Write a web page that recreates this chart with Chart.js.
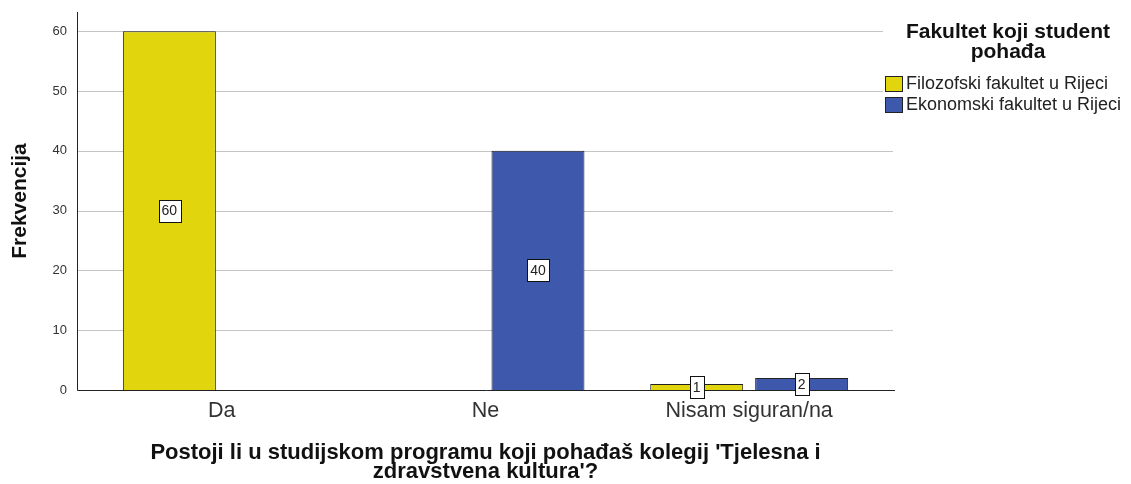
<!DOCTYPE html>
<html>
<head>
<meta charset="utf-8">
<script src="https://cdn.jsdelivr.net/npm/chart.js@4"></script>
<style>
    body { margin: 0; background: #fff; }
    #wrap { width: 1131px; height: 484px; }
</style>
</head>
<body>
<div id="wrap"><canvas id="chart"></canvas></div>
<script>
const categories = ["Da", "Ne", "Nisam siguran/na"];
const filozofski = [60, 0, 1];
const ekonomski = [0, 40, 2];
const seriesNames = ["Filozofski fakultet u Rijeci", "Ekonomski fakultet u Rijeci"];
const yTicks = [0, 10, 20, 30, 40, 50, 60];
const legendTitle = ["Fakultet koji student", "pohađa"];
const xTitle = ["Postoji li u studijskom programu koji pohađaš kolegij 'Tjelesna i", "zdravstvena kultura'?"];

const FONT = "'Liberation Sans', Arial, sans-serif";

function noPadding(scale) {
    scale.paddingTop = 0;
    scale.paddingBottom = 0;
    scale.paddingLeft = 0;
    scale.paddingRight = 0;
}

// gridlines and axis lines reach a bit past the bars, like the SPSS output
const frame = {
    id: "frame",
    beforeDatasetsDraw(chart) {
        const ctx = chart.ctx;
        const y = chart.scales.y;
        ctx.save();
        ctx.strokeStyle = "#c4c4c4";
        ctx.lineWidth = 1;
        yTicks.forEach(v => {
            if (v === 0) return;
            const py = Math.round(y.getPixelForValue(v)) + 0.5;
            ctx.beginPath();
            ctx.moveTo(77, py);
            ctx.lineTo(893, py);
            ctx.stroke();
        });
        ctx.restore();
    },
    afterDatasetsDraw(chart) {
        const ctx = chart.ctx;
        const y = chart.scales.y;
        const base = Math.round(y.getPixelForValue(0)) + 0.5;
        ctx.save();
        ctx.strokeStyle = "#222";
        ctx.lineWidth = 1;
        ctx.beginPath();
        ctx.moveTo(77.5, chart.chartArea.top);
        ctx.lineTo(77.5, base);
        ctx.lineTo(895, base);
        ctx.stroke();

        // value boxes in the middle of each bar
        ctx.font = "14px " + FONT;
        ctx.textAlign = "center";
        ctx.textBaseline = "middle";
        chart.data.datasets.forEach((ds, i) => {
            chart.getDatasetMeta(i).data.forEach((bar, j) => {
                const v = ds.data[j];
                if (!v) return;
                const cx = bar.x;
                const cy = (bar.y + bar.base) / 2;
                const w = ctx.measureText(String(v)).width + 6;
                const h = 22;
                ctx.fillStyle = "#fff";
                ctx.fillRect(Math.round(cx - w / 2) + 0.5, Math.round(cy - h / 2) + 0.5, Math.round(w), h);
                ctx.strokeStyle = "#111";
                ctx.strokeRect(Math.round(cx - w / 2) + 0.5, Math.round(cy - h / 2) + 0.5, Math.round(w), h);
                ctx.fillStyle = "#222";
                ctx.fillText(String(v), cx, cy + 1);
            });
        });
        ctx.restore();
    },
    afterDraw(chart) {
        const ctx = chart.ctx;
        ctx.save();
        ctx.fillStyle = "#fff";
        ctx.fillRect(883, 0, 248, 120);
        ctx.fillStyle = "#111";
        ctx.textAlign = "center";
        ctx.textBaseline = "middle";
        ctx.font = "bold 21px " + FONT;
        legendTitle.forEach((t, i) => ctx.fillText(t, 1008, 32 + i * 20));
        ctx.font = "18px " + FONT;
        ctx.textAlign = "left";
        chart.data.datasets.forEach((ds, i) => {
            const top = 76 + i * 21;
            ctx.fillStyle = ds.backgroundColor;
            ctx.fillRect(885.5, top + 0.5, 17, 15);
            ctx.strokeStyle = "#222";
            ctx.strokeRect(885.5, top + 0.5, 17, 15);
            ctx.fillStyle = "#222";
            ctx.fillText(ds.label, 906, top + 8.5);
        });
        ctx.restore();
    }
};

new Chart(document.getElementById("chart"), {
    type: "bar",
    data: {
        labels: categories,
        datasets: [
            {
                label: seriesNames[0],
                data: filozofski,
                backgroundColor: "#E1D60D",
                borderColor: "#222",
                borderWidth: 1,
                borderSkipped: "bottom"
            },
            {
                label: seriesNames[1],
                data: ekonomski,
                backgroundColor: "#3E58AB",
                borderColor: "#222",
                borderWidth: 1,
                borderSkipped: "bottom"
            }
        ]
    },
    options: {
        responsive: true,
        maintainAspectRatio: false,
        animation: false,
        categoryPercentage: 0.796,
        barPercentage: 0.886,
        layout: { padding: { left: 0, top: 12, right: 250, bottom: 0 }, autoPadding: false },
        plugins: {
            legend: { display: false },
            tooltip: { enabled: false }
        },
        scales: {
            x: {
                grid: { display: false, drawTicks: false },
                border: { display: false },
                ticks: { color: "#333", font: { family: FONT, size: 21.5 }, padding: 8 },
                title: {
                    display: true,
                    text: xTitle,
                    color: "#111",
                    font: { family: FONT, size: 22, weight: "bold", lineHeight: 0.88 },
                    padding: { top: 0, bottom: 2 }
                },
                afterFit(scale) { scale.height = 94; noPadding(scale); }
            },
            y: {
                min: 0,
                max: 63.2,
                grid: { display: false, drawTicks: false },
                border: { display: false },
                afterBuildTicks(scale) { scale.ticks = yTicks.map(v => ({ value: v })); },
                ticks: { color: "#333", font: { family: FONT, size: 13 }, padding: 23 },
                title: {
                    display: true,
                    text: "Frekvencija",
                    color: "#111",
                    font: { family: FONT, size: 21, weight: "bold", lineHeight: 1.2 },
                    padding: { top: 8, bottom: 0 }
                },
                afterFit(scale) { scale.width = 90; noPadding(scale); }
            }
        }
    },
    plugins: [frame]
});
</script>
</body>
</html>
